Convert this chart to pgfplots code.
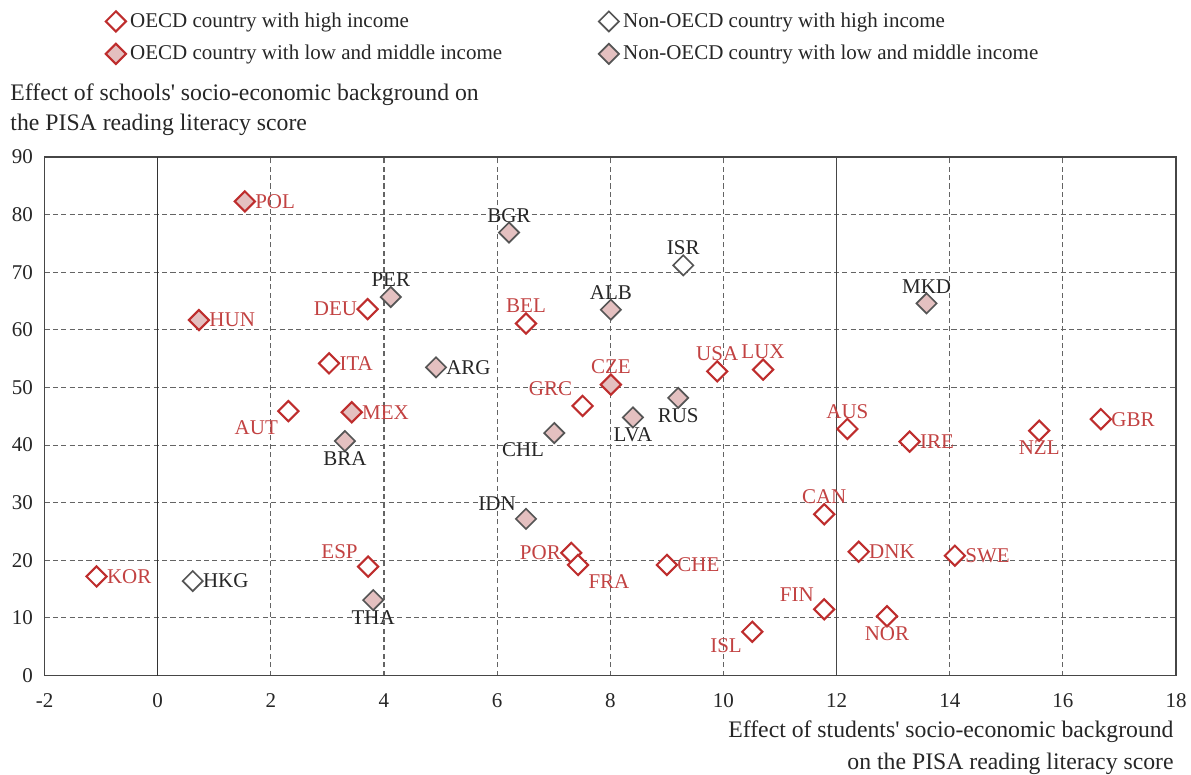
\documentclass[border=0pt]{standalone}
\usepackage{fontspec}
\setmainfont{Liberation Serif}
\usepackage{pgfplots}
\usepackage{pgfplotstable}
\pgfplotsset{compat=1.18}

\definecolor{oecdred}{RGB}{190,45,45}
\definecolor{labred}{RGB}{194,66,66}
\definecolor{fillpink}{RGB}{228,192,192}
\definecolor{markgray}{RGB}{85,85,85}
\definecolor{gridgray}{RGB}{100,100,100}

% x = effect of students' background, y = effect of schools' background
% a = anchor of the label as an angle (180: label right, 0: label left,
%     270: label above, 90: label below, 28/152/332: corners)
\pgfplotstableread{
x y lab a
-1.08 17.2 KOR 180
2.31 45.9 AUT 28
3.03 54.2 ITA 180
3.71 63.6 DEU 0
3.72 18.9 ESP 332
6.51 61.1 BEL 270
7.51 46.8 GRC 332
7.31 21.3 POR 0
7.43 19.2 FRA 152
9.00 19.2 CHE 180
9.89 52.8 USA 270
10.70 53.1 LUX 270
10.51 7.6 ISL 28
12.19 42.8 AUS 270
11.78 28.0 CAN 270
11.78 11.5 FIN 332
12.39 21.5 DNK 180
13.29 40.6 IRE 180
12.89 10.3 NOR 90
14.09 20.8 SWE 180
15.58 42.5 NZL 90
16.67 44.5 GBR 180
}\oecdhigh

\pgfplotstableread{
x y lab a
1.54 82.3 POL 180
0.73 61.7 HUN 180
3.43 45.7 MEX 180
8.01 50.5 CZE 270
}\oecdlow

\pgfplotstableread{
x y lab a
0.62 16.4 HKG 180
9.29 71.2 ISR 270
}\nonhigh

\pgfplotstableread{
x y lab a
4.12 65.7 PER 270
4.92 53.5 ARG 180
3.31 40.7 BRA 90
3.81 13.1 THA 90
6.21 76.9 BGR 270
8.01 63.5 ALB 270
7.01 42.1 CHL 28
6.51 27.2 IDN 332
8.40 44.8 LVA 90
9.20 48.2 RUS 90
13.59 64.6 MKD 270
}\nonlow

\pgfplotsset{
    country/.style={
        only marks, mark=square*, mark size=3.4pt, forget plot,
        point meta=explicit symbolic,
        nodes near coords,
        visualization depends on={\thisrow{a}\as\anc},
        nodes near coords style={anchor=\anc, inner sep=4.5pt, font=\fontsize{10}{12}\selectfont},
    },
    rh/.style={mark options={rotate=45, draw=oecdred, fill=white, line width=1pt}},
    gh/.style={mark options={rotate=45, draw=markgray, fill=white, line width=0.8pt}},
    rl/.style={mark options={rotate=45, draw=oecdred, fill=fillpink, line width=1pt}},
    gl/.style={mark options={rotate=45, draw=markgray, fill=fillpink, line width=0.8pt}},
}

\begin{document}
\begin{tikzpicture}
\begin{axis}[
    scale only axis,
    clip=false,
    width=539pt, height=247pt,
    xmin=-2, xmax=18, ymin=0, ymax=90,
    xtick={-2,0,...,18}, ytick={0,10,...,90},
    major tick length=0pt,
    grid=major,
    major grid style={dashed, gridgray, line width=0.5pt, dash pattern=on 2.4pt off 1.6pt},
    axis line style={gridgray!70!black, line width=0.6pt},
    font=\fontsize{10}{12}\selectfont,
    /pgf/number format/assume math mode=true,
    ticklabel style={font=\fontsize{10}{12}\selectfont, text=black!85},
    xticklabel style={yshift=-5pt},
    yticklabel style={xshift=-2pt},
    legend columns=2,
    legend cell align=left,
    legend image code/.code={\draw[mark repeat=2, mark phase=2, #1] plot coordinates {(0cm,0cm) (0.2cm,0cm) (0.4cm,0cm)};},
    legend style={draw=none, fill=none, at={(rel axis cs:0,1)}, anchor=north west,
        xshift=29pt, yshift=71pt, inner sep=0pt, row sep=3pt,
        font=\fontsize{10}{12}\selectfont, text=black!85,
        /tikz/every even column/.append style={column sep=44pt}},
]
% grid lines at 0 and 12 are solid
\draw[black!80, line width=0.6pt] (axis cs:0,0) -- (axis cs:0,90);
\draw[gridgray!70!black, line width=0.6pt] (axis cs:12,0) -- (axis cs:12,90);

\addplot[country, rh, nodes near coords style={text=labred}]
    table[x=x, y=y, meta=lab] {\oecdhigh};
\addplot[country, gh, nodes near coords style={text=black!85}]
    table[x=x, y=y, meta=lab] {\nonhigh};
\addplot[country, rl, nodes near coords style={text=labred}]
    table[x=x, y=y, meta=lab] {\oecdlow};
\addplot[country, gl, nodes near coords style={text=black!85}]
    table[x=x, y=y, meta=lab] {\nonlow};

\addlegendimage{only marks, mark=square*, mark size=3.4pt, rh}
\addlegendentry{OECD country with high income}
\addlegendimage{only marks, mark=square*, mark size=3.4pt, gh}
\addlegendentry{Non-OECD country with high income}
\addlegendimage{only marks, mark=square*, mark size=3.4pt, rl}
\addlegendentry{OECD country with low and middle income}
\addlegendimage{only marks, mark=square*, mark size=3.4pt, gl}
\addlegendentry{Non-OECD country with low and middle income}

\node[anchor=south west, align=left, inner sep=0pt, text=black!85,
    font=\fontsize{11.3}{14.3}\selectfont]
    at (rel axis cs:0,1) [xshift=-16.4pt, yshift=10pt]
    {Effect of schools\textquotesingle{} socio-economic background on\\the PISA reading literacy score};
\node[anchor=north east, align=right, inner sep=0pt, text=black!85,
    font=\fontsize{11.3}{15.2}\selectfont]
    at (rel axis cs:1,0) [xshift=-1pt, yshift=-21.3pt]
    {Effect of students\textquotesingle{} socio-economic background\\on the PISA reading literacy score};

\coordinate (bl) at (rel axis cs:0,0);
\coordinate (tr) at (rel axis cs:1,1);
\end{axis}
\pgfresetboundingbox
\path ([xshift=-21.2pt, yshift=-47.2pt]bl) rectangle ([xshift=7.1pt, yshift=74.8pt]tr);
\end{tikzpicture}
\end{document}
